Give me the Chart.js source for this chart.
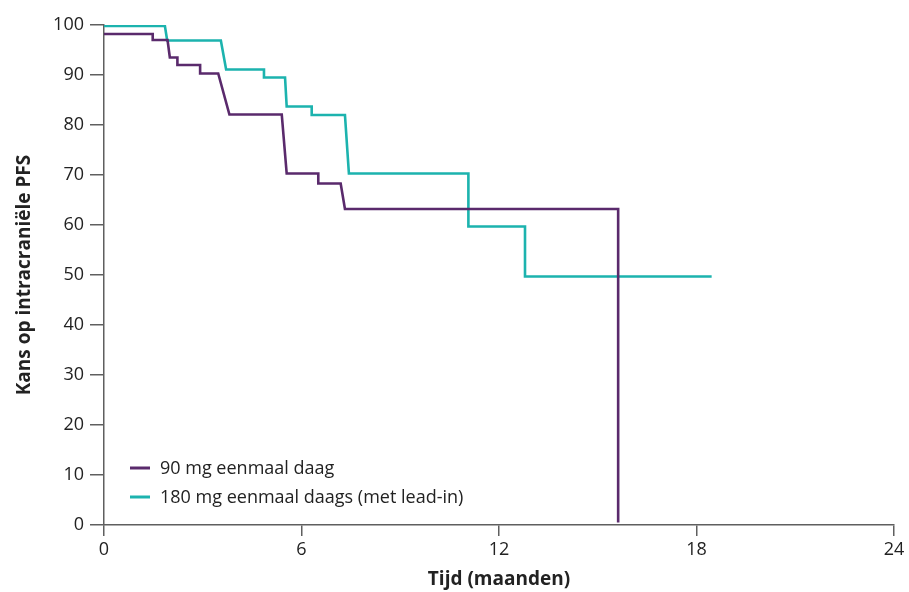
<!DOCTYPE html>
<html>
<head>
<meta charset="utf-8">
<script src="https://cdn.jsdelivr.net/npm/chart.js@4.4.1/dist/chart.umd.min.js"></script>
<style>
    html, body { margin: 0; padding: 0; background: #fff; }
    #kmChart { display: block; }
</style>
</head>
<body>
<canvas id="kmChart" width="909" height="592"></canvas>
<script>
// Data (months, % intracranial PFS)
const xTicks = [0, 6, 12, 18, 24]
const yTicks = [0, 10, 20, 30, 40, 50, 60, 70, 80, 90, 100]

const label90 = '90 mg eenmaal daag'
const time90 = [0, 1.48, 1.48, 1.93, 2.0, 2.23, 2.23, 2.92, 2.92, 3.47, 3.81, 5.40, 5.55, 6.51, 6.51, 7.19, 7.32, 15.62, 15.62]
const surv90 = [98.2, 98.2, 97.0, 97.0, 93.5, 93.5, 92.0, 92.0, 90.3, 90.3, 82.1, 82.1, 70.3, 70.3, 68.3, 68.3, 63.2, 63.2, 0.5]

const label180 = '180 mg eenmaal daags (met lead-in)'
const time180 = [0, 1.85, 1.92, 3.55, 3.71, 4.86, 4.86, 5.50, 5.55, 6.31, 6.31, 7.32, 7.44, 11.07, 11.07, 12.79, 12.79, 18.46]
const surv180 = [99.8, 99.8, 96.9, 96.9, 91.1, 91.1, 89.5, 89.5, 83.7, 83.7, 82.0, 82.0, 70.3, 70.3, 59.7, 59.7, 49.7, 49.7]

const purple = '#5a2a6c'
const teal = '#1cb3ae'
const axisColor = '#5f5f5f'
const fontFamily = "'Open Sans', 'Noto Sans', sans-serif"

function toPoints(times, values) {
    return times.map((t, i) => ({ x: t, y: values[i] }))
}

// legend drawn inside the plot, bottom left
const innerLegend = {
    id: 'innerLegend',
    afterDraw(chart) {
        const ctx = chart.ctx
        const area = chart.chartArea
        ctx.save()
        ctx.font = '18px ' + fontFamily
        ctx.textBaseline = 'middle'
        chart.data.datasets.forEach((ds, i) => {
            const y = area.bottom - 57 + i * 29
            ctx.strokeStyle = ds.borderColor
            ctx.lineWidth = 3
            ctx.beginPath()
            ctx.moveTo(area.left + 26, y)
            ctx.lineTo(area.left + 46, y)
            ctx.stroke()
            ctx.fillStyle = '#222'
            ctx.fillText(ds.label, area.left + 56, y + 1)
        })
        ctx.restore()
    }
}

// Kaplan-Meier plot
const kmChart = new Chart(
    document.getElementById('kmChart').getContext('2d'), {
    type: 'line',
    data: {
        datasets: [{
            label: label90,
            borderColor: purple,
            backgroundColor: purple,
            borderWidth: 2.6,
            data: toPoints(time90, surv90)
        }, {
            label: label180,
            borderColor: teal,
            backgroundColor: teal,
            borderWidth: 2.6,
            data: toPoints(time180, surv180)
        }]
    },
    options: {
        responsive: false,
        animation: false,
        elements: {
            point: { radius: 0 },
            line: { tension: 0, borderCapStyle: 'butt' }
        },
        layout: {
            padding: { top: 25, right: 15, left: 0, bottom: 0 }
        },
        plugins: {
            legend: { display: false },
            tooltip: { enabled: false }
        },
        scales: {
            x: {
                type: 'linear',
                min: 0,
                max: 24,
                afterBuildTicks: (scale) => {
                    scale.ticks = xTicks.map(v => ({ value: v }))
                },
                afterFit: (scale) => { scale.height = 67 },
                grid: {
                    drawOnChartArea: false,
                    color: axisColor,
                    tickLength: 11,
                    lineWidth: 1.5
                },
                border: { color: axisColor, width: 1.5 },
                ticks: {
                    color: '#222',
                    padding: 3,
                    maxRotation: 0,
                    font: { family: fontFamily, size: 18 }
                },
                title: {
                    display: true,
                    text: 'Tijd (maanden)',
                    color: '#222',
                    padding: { top: 0, bottom: 1 },
                    font: { family: fontFamily, size: 19, weight: 'bold' }
                }
            },
            y: {
                min: 0,
                max: 100,
                afterBuildTicks: (scale) => {
                    scale.ticks = yTicks.map(v => ({ value: v }))
                },
                afterFit: (scale) => { scale.width = 104 },
                grid: {
                    drawOnChartArea: false,
                    color: axisColor,
                    tickLength: 14,
                    lineWidth: 1.5
                },
                border: { color: axisColor, width: 1.5 },
                ticks: {
                    color: '#222',
                    padding: 6,
                    font: { family: fontFamily, size: 18 }
                },
                title: {
                    display: true,
                    text: 'Kans op intracraniële PFS',
                    color: '#222',
                    padding: { top: 13, bottom: 0 },
                    font: { family: fontFamily, size: 19, weight: 'bold' }
                }
            }
        }
    },
    plugins: [innerLegend]
}
);
</script>
</body>
</html>
